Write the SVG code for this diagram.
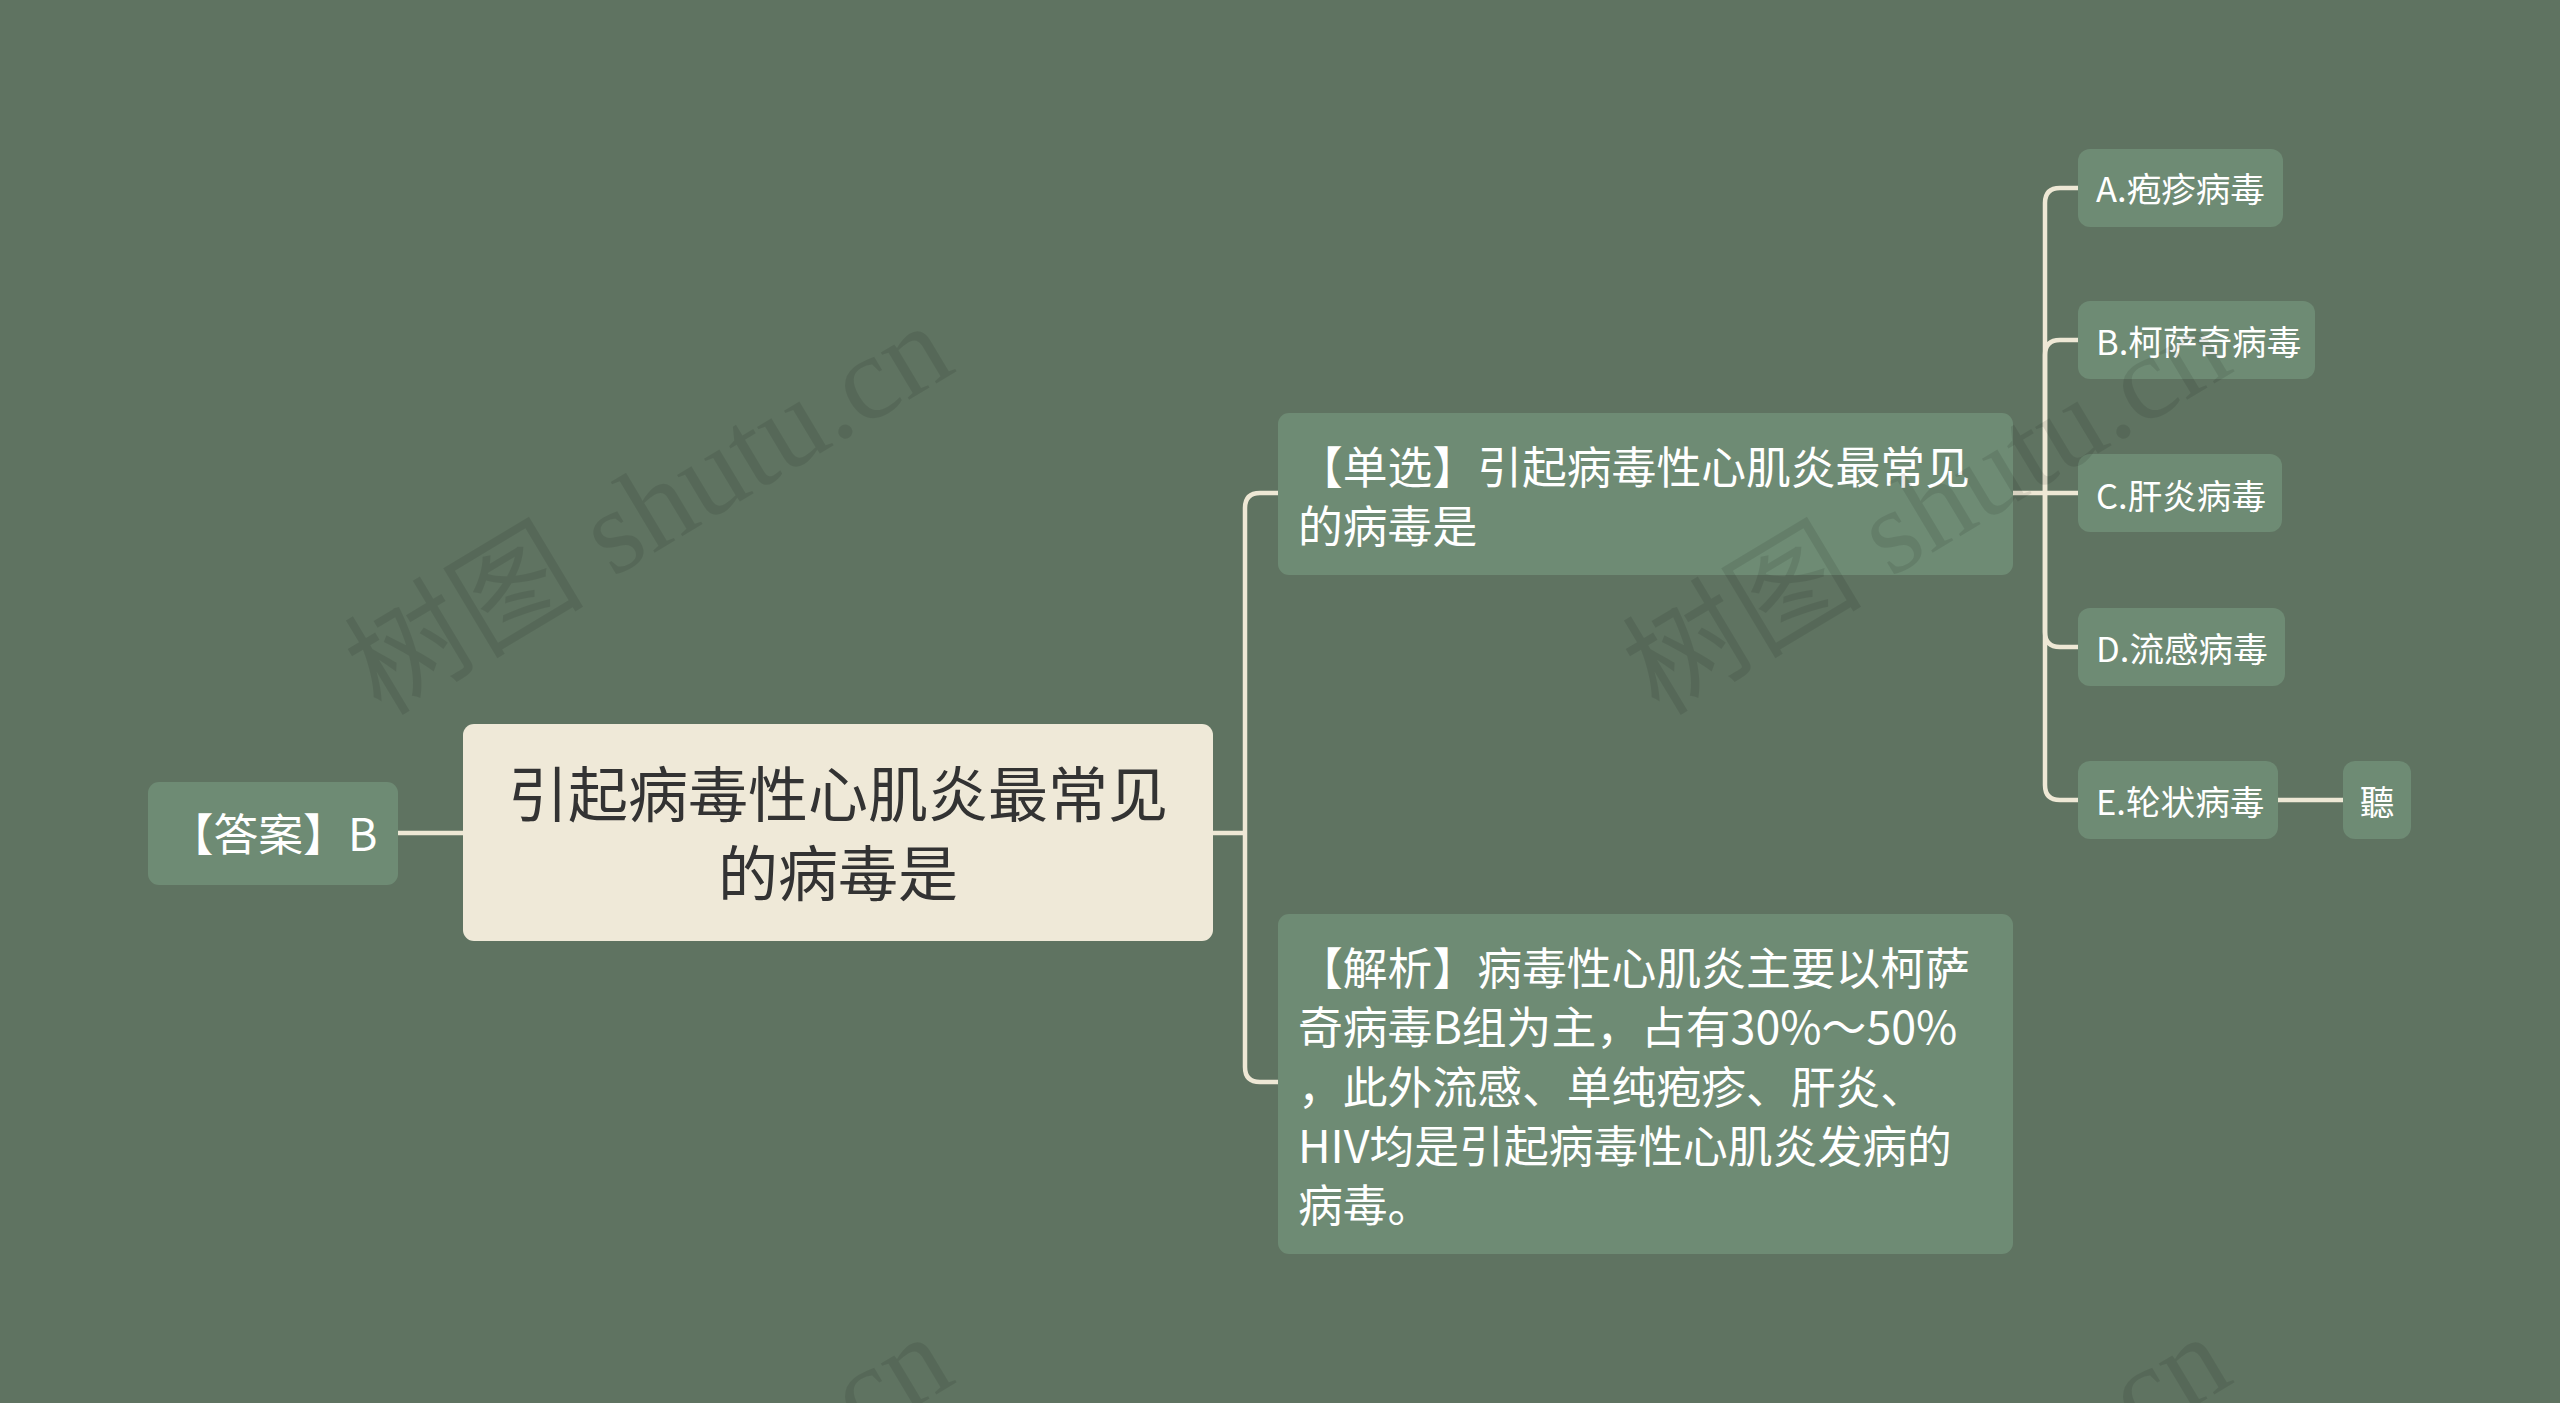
<svg xmlns="http://www.w3.org/2000/svg" width="2560" height="1403" viewBox="0 0 2560 1403">
<style>
.bg{fill:#5f7361}
.wm{font-family:"Liberation Serif","Noto Sans CJK SC",serif;font-size:120px;fill:#000000;fill-opacity:0.09}
.root{fill:#efe9d8}
.node{fill:#6e8b74}
.rt{font-family:"Noto Sans CJK SC",sans-serif;font-size:60px;fill:#333333;text-anchor:middle;dominant-baseline:central}
.t{font-family:"Noto Sans CJK SC",sans-serif;font-size:44.8px;fill:#ffffff;dominant-baseline:central}
.o{font-family:"Noto Sans CJK SC",sans-serif;font-size:34.6px;fill:#ffffff;dominant-baseline:central}
.c{fill:none;stroke:#eee8d5;stroke-width:4.5;stroke-linecap:butt}
</style>
<rect class="bg" x="0" y="0" width="2560" height="1403"/>
<g id="connectors">
<path class="c" d="M398,833 H463"/>
<path class="c" d="M1213,833 H1245"/>
<path class="c" d="M1245,833 V508 Q1245,493 1260,493 H1278"/>
<path class="c" d="M1245,833 V1067 Q1245,1082 1260,1082 H1278"/>
<path class="c" d="M2013,493 H2078"/>
<path class="c" d="M2045,493 V203 Q2045,188 2060,188 H2078"/>
<path class="c" d="M2045,493 V355 Q2045,340 2060,340 H2078"/>
<path class="c" d="M2045,493 V632 Q2045,647 2060,647 H2078"/>
<path class="c" d="M2045,493 V785 Q2045,800 2060,800 H2078"/>
<path class="c" d="M2278,800 H2343"/>
</g>
<g id="node-root">
<rect class="root" x="463" y="724" width="750" height="217" rx="11"/>
<text class="rt" x="838" y="790">引起病毒性心肌炎最常见</text>
<text class="rt" x="838" y="869">的病毒是</text>
</g>
<g id="node-answer">
<rect class="node" x="148" y="782" width="250" height="103" rx="11"/>
<text class="t" x="273" y="831" text-anchor="middle">【答案】B</text>
</g>
<g id="node-question">
<rect class="node" x="1278" y="413" width="735" height="162" rx="11"/>
<text class="t" x="1298" y="464">【单选】引起病毒性心肌炎最常见</text>
<text class="t" x="1298" y="523">的病毒是</text>
</g>
<g id="node-analysis">
<rect class="node" x="1278" y="914" width="735" height="340" rx="11"/>
<text class="t" x="1298" y="965">【解析】病毒性心肌炎主要以柯萨</text>
<text class="t" x="1298" y="1024">奇病毒B组为主，占有30%～50%</text>
<text class="t" x="1298" y="1084">，此外流感、单纯疱疹、肝炎、</text>
<text class="t" x="1298" y="1143">HIV均是引起病毒性心肌炎发病的</text>
<text class="t" x="1298" y="1202">病毒。</text>
</g>
<g id="node-a">
<rect class="node" x="2078" y="149" width="205" height="78" rx="12"/>
<text class="o" x="2096" y="187">A.疱疹病毒</text>
</g>
<g id="node-b">
<rect class="node" x="2078" y="301" width="237" height="78" rx="12"/>
<text class="o" x="2096" y="340">B.柯萨奇病毒</text>
</g>
<g id="node-c">
<rect class="node" x="2078" y="454" width="204" height="78" rx="12"/>
<text class="o" x="2096" y="494">C.肝炎病毒</text>
</g>
<g id="node-d">
<rect class="node" x="2078" y="608" width="207" height="78" rx="12"/>
<text class="o" x="2096" y="647">D.流感病毒</text>
</g>
<g id="node-e">
<rect class="node" x="2078" y="761" width="200" height="78" rx="12"/>
<text class="o" x="2096" y="800">E.轮状病毒</text>
</g>
<g id="node-e-child">
<rect class="node" x="2343" y="761" width="68" height="78" rx="12"/>
<text class="o" x="2377" y="800" text-anchor="middle">聽</text>
</g>
<g id="watermarks">
<text class="wm" x="381" y="717" transform="rotate(-31 381 717)">树图 shutu.cn</text>
<text class="wm" x="1659" y="717" transform="rotate(-31 1659 717)">树图 shutu.cn</text>
<text class="wm" x="381" y="1728" transform="rotate(-31 381 1728)">树图 shutu.cn</text>
<text class="wm" x="1659" y="1728" transform="rotate(-31 1659 1728)">树图 shutu.cn</text>
</g>
</svg>
